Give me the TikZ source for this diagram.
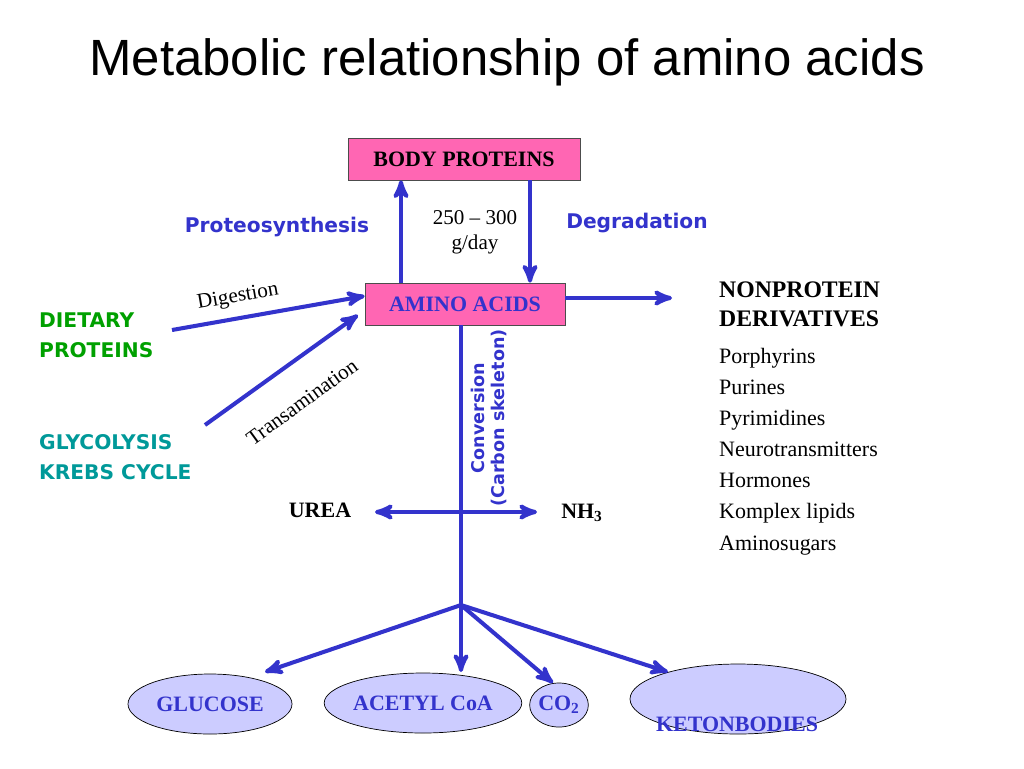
\documentclass[tikz,border=0pt]{standalone}
\usepackage{fontspec}
\setmainfont{Liberation Serif}
\setsansfont{Liberation Sans}
\newfontfamily\comicfont{DejaVu Sans}
\usepackage{xcolor}
\usetikzlibrary{arrows, positioning, calc, shapes.geometric}
\definecolor{linkblue}{RGB}{51,51,204}
\definecolor{boxpink}{RGB}{255,102,179}
\definecolor{ovalblue}{RGB}{204,204,255}
\definecolor{dietgreen}{RGB}{0,160,0}
\definecolor{glyteal}{RGB}{0,153,153}
\begin{document}
\begin{tikzpicture}[
		x=0.02cm, y=-0.02cm,
		>=stealth',
		flow/.style={->, line width=2.3pt, draw=linkblue},
		pinkbox/.style={
				rectangle,
				draw=black!70,
				fill=boxpink,
				font=\bfseries\fontsize{12.5}{14}\selectfont,
				inner sep=0pt
			},
		product/.style={
				ellipse,
				draw=black,
				fill=ovalblue,
				text=linkblue,
				font=\bfseries\fontsize{12.5}{14}\selectfont,
				inner sep=0pt
			},
		bluesans/.style={text=linkblue, font=\comicfont\bfseries\fontsize{11.5}{13}\selectfont},
		plain/.style={font=\fontsize{12}{14}\selectfont},
		]
		
		\useasboundingbox (0,0) rectangle (1024,768);
		
		\node[font=\sffamily\fontsize{29}{33}\selectfont] (title) at (507,62) {Metabolic relationship of amino acids};
		
		\node[pinkbox, minimum width=232*0.02cm, minimum height=42*0.02cm] (body) at (464,159) {BODY PROTEINS};
		
		\node[pinkbox, text=linkblue, minimum width=200*0.02cm, minimum height=42*0.02cm] (amino) at (465,304) {AMINO ACIDS};
		
		\draw[flow] (amino.north -| 401,0) -- (body.south -| 401,0);
		
		\draw[flow] (body.south -| 530,0) -- (amino.north -| 530,0);
		
		\node[plain, align=center] (rate) at (475,232) {250 -- 300\\g/day};
		
		\node[bluesans] (synth) at (277,227) {Proteosynthesis};
		
		\node[bluesans] (degr) at (637,223) {Degradation};
		
		% nonprotein derivatives
		\coordinate (nonprot) at (672,298);
		
		\draw[flow] (amino.east |- nonprot) -- (nonprot);
		
		\node[anchor=north west, align=left, font=\bfseries\fontsize{13.5}{16.5}\selectfont] (deriv) at (713,276) {NONPROTEIN\\DERIVATIVES};
		
		\node[anchor=north west, align=left, font=\fontsize{12.5}{17.7}\selectfont] (list) at (713,342) {Porphyrins\\Purines\\Pyrimidines\\Neurotransmitters\\Hormones\\Komplex lipids\\Aminosugars};
		
		% inputs
		\node[anchor=west, align=left, text=dietgreen, font=\comicfont\bfseries\fontsize{11.5}{17}\selectfont] (diet) at (33,335) {DIETARY\\PROTEINS};
		
		\node[anchor=west, align=left, text=glyteal, font=\comicfont\bfseries\fontsize{11.5}{17}\selectfont] (glyc) at (33,457) {GLYCOLYSIS\\KREBS CYCLE};
		
		\draw[flow] (172,330) -- (amino.west |- 0,296);
		
		\draw[flow] (205,425) -- (358,315);
		
		\node[plain, rotate=10] (dig) at (238,297) {Digestion};
		
		\node[plain, rotate=36] (trans) at (302,402) {Transamination};
		
		% carbon skeleton
		\coordinate (split) at (461,605);
		
		\draw[line width=2.3pt, linkblue] (amino.south -| split) -- (split);
		
		\node[bluesans, rotate=90, align=center, font=\comicfont\bfseries\fontsize{10}{11.5}\selectfont] (conv) at (489,418) {Conversion\\(Carbon skeleton)};
		
		\node[font=\bfseries\fontsize{12.5}{14}\selectfont] (urea) at (320,510) {UREA};
		
		\node[font=\bfseries\fontsize{12.5}{14}\selectfont] (nh3) at (582,513) {NH\textsubscript{3}};
		
		\draw[flow, <->] (375,512) -- (537,512);
		
		% products
		\node[product, minimum width=164*0.02cm, minimum height=60*0.02cm] (glucose) at (210,704) {GLUCOSE};
		
		\node[product, minimum width=184*0.02cm, minimum height=60*0.02cm] (acetyl) at (423,703) {ACETYL CoA};
		
		\node[product, minimum width=46*0.02cm, minimum height=44*0.02cm] (co2) at (559,705) {CO\textsubscript{2}};
		
		\node[product, minimum width=216*0.02cm, minimum height=70*0.02cm] (keton) at (738,699) {};
		
		\node[text=linkblue, font=\bfseries\fontsize{12.5}{14}\selectfont] (ketonlabel) at (737,724) {KETONBODIES};
		
		\coordinate (acetyltip) at (461,672);
		
		\draw[flow] (split) -- (265,672);
		
		\draw[flow] (split) -- (acetyltip);
		
		\draw[flow] (split) -- (553,683);
		
		\draw[flow] (split) -- (668,672);
		
	\end{tikzpicture}
\end{document}
